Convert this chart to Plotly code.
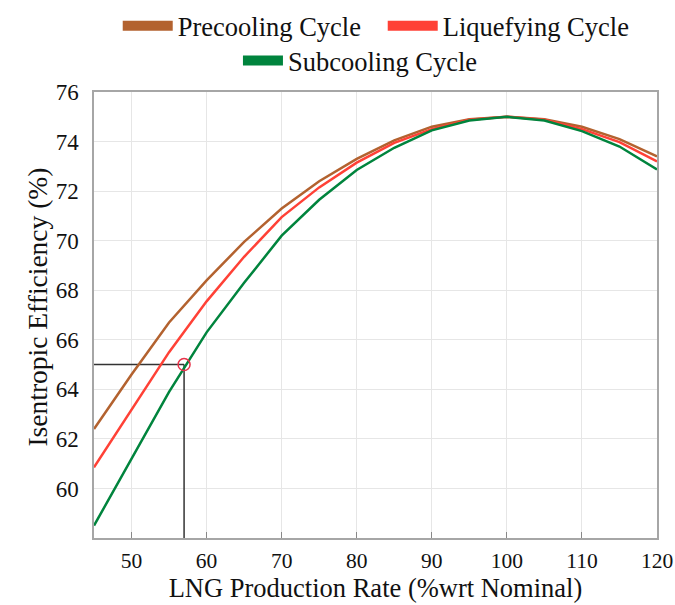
import plotly.graph_objects as go

# Data
rate = [45, 50, 55, 60, 65, 70, 75, 80, 85, 90, 95, 100, 105, 110, 115, 120]
precooling = [62.4, 64.6, 66.7, 68.4, 69.95, 71.3, 72.4, 73.3, 74.05, 74.6, 74.9, 75.0, 74.9, 74.6, 74.1, 73.4]
liquefying = [60.85, 63.2, 65.5, 67.55, 69.35, 70.95, 72.15, 73.15, 73.95, 74.5, 74.88, 75.0, 74.88, 74.5, 73.98, 73.2]
subcooling = [58.5, 61.2, 63.9, 66.3, 68.3, 70.2, 71.65, 72.85, 73.75, 74.45, 74.85, 75.0, 74.85, 74.42, 73.8, 72.87]
series_names = ["Precooling Cycle", "Liquefying Cycle", "Subcooling Cycle"]
mark_x = 57
mark_y = 65
x_ticks = [50, 60, 70, 80, 90, 100, 110, 120]
y_ticks = [60, 62, 64, 66, 68, 70, 72, 74, 76]
x_range = [45, 120]
y_range = [58, 76]
x_title = "LNG Production Rate (%wrt Nominal)"
y_title = "Isentropic Efficiency (%)"

colors = ["#B3622F", "#FF4136", "#00843D"]
FONT = "Liberation Serif"

fig = go.Figure()

# reference guide lines
fig.add_trace(go.Scatter(x=[x_range[0], mark_x], y=[mark_y, mark_y], mode="lines",
                         line=dict(color="#333333", width=1.5), showlegend=False, hoverinfo="skip"))
fig.add_trace(go.Scatter(x=[mark_x, mark_x], y=[y_range[0], mark_y], mode="lines",
                         line=dict(color="#333333", width=1.5), showlegend=False, hoverinfo="skip"))

for name, vals, col in zip(series_names, [precooling, liquefying, subcooling], colors):
    fig.add_trace(go.Scatter(x=rate, y=vals, mode="lines", name=name,
                             line=dict(color=col, width=2.5), showlegend=False))

# legend entries (thick swatches)
for i, (name, col) in enumerate(zip(series_names, colors)):
    fig.add_trace(go.Scatter(x=[None], y=[None], mode="lines", name=name,
                             line=dict(color=col, width=10),
                             legend="legend" if i < 2 else "legend2"))

fig.add_trace(go.Scatter(x=[mark_x], y=[mark_y], mode="markers",
                         marker=dict(symbol="circle-open", size=12, color="#E8334A",
                                     line=dict(width=1.5)), showlegend=False))

fig.update_layout(
    width=675, height=605,
    margin=dict(l=94, r=18, t=92, b=67),
    paper_bgcolor="white", plot_bgcolor="white",
    font=dict(family=FONT, size=22, color="#111111"),
    legend=dict(orientation="h", xref="container", yref="container",
                x=0.567, xanchor="center", y=0.957, yanchor="middle",
                font=dict(family=FONT, size=26.5), bgcolor="rgba(0,0,0,0)",
                itemwidth=50, entrywidth=200),
    legend2=dict(orientation="h", xref="container", yref="container",
                 x=0.534, xanchor="center", y=0.8995, yanchor="middle",
                 font=dict(family=FONT, size=26.5), bgcolor="rgba(0,0,0,0)", itemwidth=40),
    annotations=[dict(text=y_title, textangle=-90, xref="paper", yref="paper",
                      x=-0.101, y=0.517, xanchor="center", yanchor="middle",
                      showarrow=False, font=dict(family=FONT, size=27.5, color="#111111"))],
)

fig.update_xaxes(range=x_range, tickvals=x_ticks, ticks="inside", ticklen=6, tickcolor="#888888",
                 showgrid=True, gridcolor="#E6E6E6", gridwidth=1,
                 showline=True, linecolor="#A6A6A6", linewidth=1.5, mirror=True,
                 zeroline=False, ticklabelstandoff=2, automargin=False,
                 title=dict(text=x_title, font=dict(family=FONT, size=26.5), standoff=2),
                 tickfont=dict(family=FONT, size=21.5))
fig.update_yaxes(range=y_range, tickvals=y_ticks, ticks="",
                 showgrid=True, gridcolor="#E6E6E6", gridwidth=1,
                 showline=True, linecolor="#A6A6A6", linewidth=1.5, mirror=True,
                 zeroline=False, ticklabelstandoff=9, automargin=False,
                 tickfont=dict(family=FONT, size=23))

fig.write_html("out.html")
